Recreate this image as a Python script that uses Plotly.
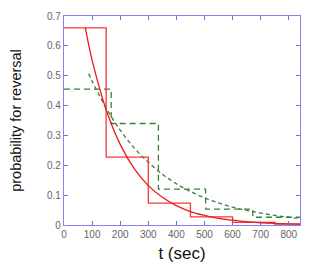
import plotly.graph_objects as go

# Red histogram (bin edges and levels)
red_edges = [0, 150, 300, 450, 600, 750, 840]
red_levels = [0.66, 0.227, 0.073, 0.027, 0.009, 0.003, 0.003]

# Red fitted curve
red_fit_t = [76, 100, 150, 200, 250, 300, 350, 400, 450, 500, 550, 600, 650, 700, 750, 800, 840]
red_fit_p = [0.66, 0.552, 0.386, 0.270, 0.189, 0.132, 0.093, 0.065, 0.045, 0.032, 0.022, 0.016, 0.011, 0.0076, 0.0053, 0.0037, 0.0027]

# Green histogram
green_edges = [0, 168, 336, 504, 672, 840]
green_levels = [0.455, 0.34, 0.12, 0.053, 0.026, 0.026]

# Green fitted curve
green_fit_t = [88, 100, 150, 200, 250, 300, 350, 400, 450, 500, 550, 600, 650, 700, 750, 800, 840]
green_fit_p = [0.507, 0.482, 0.392, 0.318, 0.258, 0.210, 0.170, 0.138, 0.112, 0.091, 0.074, 0.060, 0.049, 0.040, 0.032, 0.026, 0.022]

x_ticks = [0, 100, 200, 300, 400, 500, 600, 700, 800]
y_ticks = [0, 0.1, 0.2, 0.3, 0.4, 0.5, 0.6, 0.7]
y_tick_labels = ["0", "0.1", "0.2", "0.3", "0.4", "0.5", "0.6", "0.7"]

RED = "#f03a3a"
GREEN = "#3d7d3d"
FONT = "Liberation Sans, Arial, sans-serif"

fig = go.Figure()
fig.add_trace(go.Scatter(x=green_edges, y=green_levels, mode="lines", line_shape="hv",
                         line=dict(color=GREEN, width=1.3, dash="6px,4px")))
fig.add_trace(go.Scatter(x=green_fit_t, y=green_fit_p, mode="lines", line_shape="spline",
                         line=dict(color=GREEN, width=1.3, dash="4px,3px")))
fig.add_trace(go.Scatter(x=red_edges, y=red_levels, mode="lines", line_shape="hv",
                         line=dict(color=RED, width=1.3)))
fig.add_trace(go.Scatter(x=red_fit_t, y=red_fit_p, mode="lines", line_shape="spline",
                         line=dict(color="#e81c1c", width=1.3)))

axis_common = dict(showgrid=False, zeroline=False, showline=True, linecolor="#8585f2",
                   linewidth=1.2, mirror="ticks", ticks="inside", ticklen=4, tickcolor="#6a6af0",
                   automargin=False,
                   tickfont=dict(family=FONT, size=10, color="#666666"))

fig.update_xaxes(range=[0, 840], tickvals=x_ticks,
                 title=dict(text="t (sec)", font=dict(family=FONT, size=17, color="#111111"), standoff=8),
                 **axis_common)
fig.update_yaxes(range=[0, 0.7], tickvals=y_ticks, ticktext=y_tick_labels,
                 title=dict(text="probability for reversal", font=dict(family=FONT, size=14.5, color="#111111"), standoff=34),
                 **axis_common)

# page body has an 8px default margin; compensate so the plot area lands where the reference has it
fig.update_layout(width=302, height=258, showlegend=False,
                  margin=dict(l=56, r=10, t=8, b=41),
                  paper_bgcolor="white", plot_bgcolor="white")

fig.write_html("out.html")
